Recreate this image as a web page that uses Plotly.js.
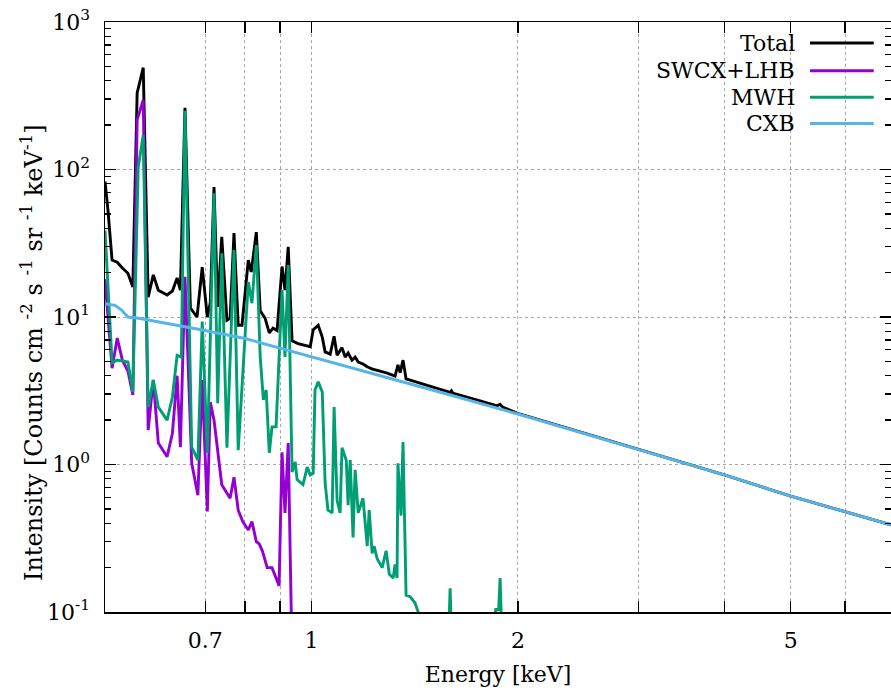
<!DOCTYPE html>
<html>
<head>
<meta charset="utf-8">
<script src="https://cdn.plot.ly/plotly-3.0.1.min.js"></script>
<style>html,body{margin:0;padding:0;background:#fff;}</style>
</head>
<body>
<div id="chart" style="width:891px;height:690px;"></div>
<script>
// ---- Data ----
const seriesNames = ['Total', 'SWCX+LHB', 'MWH', 'CXB'];
const seriesColors = ['#000000', '#9400D3', '#009E73', '#56B4E9'];

const totalE = [0.500, 0.505, 0.512, 0.521, 0.530, 0.540, 0.549, 0.557, 0.5685, 0.578, 0.588, 0.598, 0.616, 0.627, 0.637, 0.644, 0.654, 0.666, 0.681, 0.693, 0.705, 0.712, 0.721, 0.730, 0.740, 0.753, 0.761, 0.771, 0.782, 0.792, 0.809, 0.817, 0.831, 0.842, 0.856, 0.868, 0.879, 0.891, 0.906, 0.915, 0.925, 0.937, 0.956, 0.979, 0.996, 1.006, 1.023, 1.037, 1.047, 1.065, 1.079, 1.090, 1.108, 1.120, 1.131, 1.146, 1.158, 1.170, 1.189, 1.206, 1.225, 1.247, 1.290, 1.324, 1.337, 1.347, 1.360, 1.374, 1.440, 1.593, 1.600, 1.607, 1.762, 1.865, 1.884, 1.900, 2.01, 3, 4, 5, 6, 7];
const totalI = [83, 53, 24.3, 23.5, 21.5, 19.8, 16.0, 330, 490, 13.6, 19.3, 15.2, 14.1, 15.0, 18.4, 15.2, 262, 11.5, 10.0, 21.8, 10.0, 12.5, 76, 11.7, 35, 9.5, 9.8, 37, 8.8, 8.8, 24.3, 20.2, 37.6, 11.0, 9.8, 7.8, 8.4, 8.1, 22.0, 15.2, 29.9, 6.9, 6.6, 6.4, 6.3, 8.2, 8.8, 7.3, 5.8, 5.6, 7.4, 5.5, 6.2, 5.35, 5.7, 5.1, 5.35, 4.95, 4.8, 4.6, 4.45, 4.35, 4.17, 3.98, 4.73, 4.2, 5.1, 3.8, 3.55, 3.08, 3.16, 3.05, 2.7, 2.5, 2.56, 2.45, 2.2, 1.27, 0.85, 0.61, 0.48, 0.39];

const swcxE = [0.500, 0.505, 0.512, 0.521, 0.530, 0.540, 0.549, 0.557, 0.5685, 0.578, 0.588, 0.598, 0.616, 0.627, 0.637, 0.644, 0.654, 0.669, 0.683, 0.693, 0.705, 0.712, 0.721, 0.740, 0.753, 0.761, 0.771, 0.782, 0.794, 0.809, 0.819, 0.831, 0.839, 0.848, 0.862, 0.876, 0.894, 0.897, 0.906, 0.915, 0.925, 0.937];
const swcxI = [18, 9.5, 4.5, 7.2, 5.1, 4.3, 2.96, 217, 296, 1.71, 3.74, 1.4, 1.13, 1.63, 4.0, 1.31, 18.7, 1.02, 0.62, 3.74, 0.48, 2.65, 2.0, 0.73, 0.64, 0.59, 0.82, 0.49, 0.41, 0.36, 0.41, 0.30, 0.29, 0.26, 0.20, 0.20, 0.157, 0.15, 1.21, 0.47, 1.4, 0.05];

const mwhE = [0.500, 0.512, 0.521, 0.530, 0.540, 0.549, 0.559, 0.5685, 0.578, 0.588, 0.598, 0.616, 0.627, 0.637, 0.646, 0.654, 0.669, 0.683, 0.693, 0.705, 0.721, 0.730, 0.740, 0.753, 0.771, 0.782, 0.809, 0.819, 0.831, 0.842, 0.851, 0.859, 0.868, 0.876, 0.888, 0.906, 0.915, 0.925, 0.937, 0.947, 0.953, 0.972, 0.986, 0.996, 1.006, 1.012, 1.023, 1.037, 1.047, 1.057, 1.072, 1.079, 1.090, 1.101, 1.108, 1.124, 1.131, 1.139, 1.150, 1.158, 1.170, 1.189, 1.206, 1.214, 1.226, 1.234, 1.247, 1.268, 1.285, 1.299, 1.316, 1.324, 1.333, 1.337, 1.351, 1.360, 1.374, 1.393, 1.416, 1.431, 1.470, 1.585, 1.593, 1.600, 1.850, 1.857, 1.875, 1.884, 1.895, 2.2];
const mwhI = [38.6, 4.9, 5.1, 5.0, 4.95, 3.1, 104, 171, 2.45, 3.74, 2.45, 2.0, 2.87, 5.5, 5.35, 250, 1.31, 1.07, 9.3, 1.2, 69, 2.6, 27, 1.3, 28.5, 1.25, 17.3, 12.4, 30.8, 5.35, 2.74, 3.2, 1.2, 1.8, 1.8, 15.2, 5.35, 22.5, 0.89, 1.04, 0.79, 0.73, 0.96, 0.85, 0.87, 3.2, 3.63, 3.1, 0.75, 0.49, 0.47, 2.45, 0.57, 0.47, 1.3, 1.07, 0.53, 1.07, 0.32, 0.92, 0.47, 0.59, 0.28, 0.49, 0.25, 0.28, 0.23, 0.20, 0.26, 0.18, 0.17, 0.21, 0.17, 1.02, 0.45, 1.42, 0.13, 0.127, 0.115, 0.10, 0.07, 0.07, 0.145, 0.07, 0.09, 0.104, 0.104, 0.17, 0.07, 0.05];

const cxbE = [0.500, 0.510, 0.517, 0.528, 0.540, 0.560, 0.600, 0.700, 0.800, 0.900, 1.000, 1.200, 1.500, 2.000, 3, 4, 5, 6, 7];
const cxbI = [12.3, 12.2, 12.0, 11.2, 10.0, 9.8, 9.25, 8.1, 7.15, 6.15, 5.4, 4.3, 3.2, 2.2, 1.27, 0.85, 0.61, 0.48, 0.39];

const xTickVals = [0.7, 1, 2, 5];
const xTickText = ['0.7', '1', '2', '5'];
const xMinorVals = [0.8, 0.9, 3, 4, 6];
const yTickVals = [0.1, 1, 10, 100, 1000];
const yTickText = ['10<sup>-1</sup>', '10<sup>0</sup>', '10<sup>1</sup>', '10<sup>2</sup>', '10<sup>3</sup>'];
const yMinorVals = [0.2,0.3,0.4,0.5,0.6,0.7,0.8,0.9, 2,3,4,5,6,7,8,9, 20,30,40,50,60,70,80,90, 200,300,400,500,600,700,800,900];

const FONT = 'DejaVu Serif';
const FS = 22;

const xs = [totalE, swcxE, mwhE, cxbE];
const ys = [totalI, swcxI, mwhI, cxbI];

const traces = seriesNames.map((n, i) => ({
  x: xs[i], y: ys[i], name: n, type: 'scatter', mode: 'lines',
  line: {color: seriesColors[i], width: 2.9},
  showlegend: false, cliponaxis: true
}));

// gnuplot-style key: text right-aligned, sample line to its right
const keyRowsY = [0.9644, 0.9175, 0.8724, 0.828];
const annotations = seriesNames.map((n, i) => ({
  xref: 'paper', yref: 'paper', x: 0.8804, y: keyRowsY[i],
  xanchor: 'right', yanchor: 'middle', text: n, showarrow: false,
  font: {family: FONT, size: FS, color: '#000'}
}));
annotations.push({
  xref: 'paper', yref: 'paper', x: -0.092, y: 0.44, textangle: -90,
  xanchor: 'center', yanchor: 'middle', showarrow: false,
  text: 'Intensity [Counts cm <sup>-2</sup> s <sup>-1</sup> sr <sup>-1</sup> keV<sup>-1</sup>]',
  font: {family: FONT, size: 24, color: '#000'}
});
const shapes = seriesNames.map((n, i) => ({
  type: 'line', xref: 'paper', yref: 'paper',
  x0: 0.897, x1: 0.978, y0: keyRowsY[i], y1: keyRowsY[i],
  line: {color: seriesColors[i], width: 2.9}
}));

const axisCommon = {
  type: 'log', ticks: 'inside', ticklen: 11, tickwidth: 1.3, tickcolor: '#000',
  showline: true, linecolor: '#000', linewidth: 1.5, mirror: 'allticks',
  showgrid: true, gridcolor: '#a8a8a8', griddash: 'dot', gridwidth: 1,
  zeroline: false, tickmode: 'array',
  tickfont: {family: FONT, size: FS, color: '#000'}
};

const layout = {
  width: 891, height: 690,
  margin: {l: 105, r: 0, t: 22, b: 78},
  paper_bgcolor: '#fff', plot_bgcolor: '#fff',
  font: {family: FONT, size: FS, color: '#000'},
  showlegend: false,
  xaxis: Object.assign({}, axisCommon, {
    range: [Math.log10(0.5), Math.log10(7)],
    tickvals: xTickVals, ticktext: xTickText,
    ticklabelstandoff: 8,
    minor: {tickmode: 'array', tickvals: xMinorVals, ticks: 'inside', ticklen: 11, tickwidth: 1.3, tickcolor: '#000',
            showgrid: true, gridcolor: '#a8a8a8', griddash: 'dot', gridwidth: 1},
    title: {text: 'Energy [keV]', standoff: 14, font: {family: FONT, size: FS, color: '#000'}}
  }),
  yaxis: Object.assign({}, axisCommon, {
    range: [-1, 3],
    tickvals: yTickVals, ticktext: yTickText,
    ticklabelstandoff: 9,
    minor: {tickmode: 'array', tickvals: yMinorVals, ticks: 'inside', ticklen: 6, tickwidth: 1.3, tickcolor: '#000', showgrid: false}
  }),
  annotations: annotations,
  shapes: shapes
};

Plotly.newPlot('chart', traces, layout, {staticPlot: true, displayModeBar: false});
</script>
</body>
</html>
